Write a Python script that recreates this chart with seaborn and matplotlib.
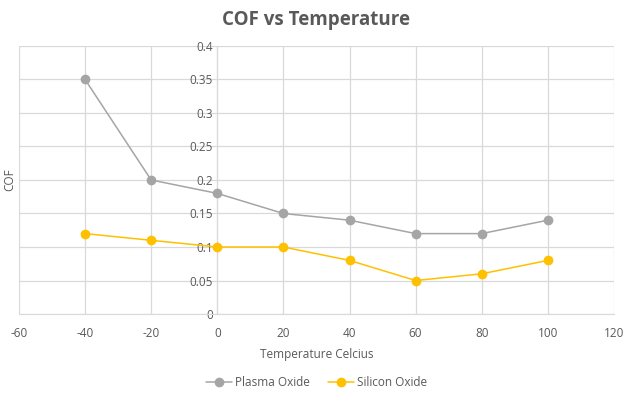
import seaborn as sns
import matplotlib.pyplot as plt
import pandas as pd

# data
temps = [-40, -20, 0, 20, 40, 60, 80, 100]
plasma_oxide = [0.35, 0.20, 0.18, 0.15, 0.14, 0.12, 0.12, 0.14]
silicon_oxide = [0.12, 0.11, 0.10, 0.10, 0.08, 0.05, 0.06, 0.08]
series_names = ['Plasma Oxide', 'Silicon Oxide']

df = pd.DataFrame({
    'Temperature': temps * 2,
    'COF': plasma_oxide + silicon_oxide,
    'Series': [series_names[0]] * len(temps) + [series_names[1]] * len(temps),
})

sns.set_style('white')
plt.rcParams['font.family'] = ['Open Sans', 'DejaVu Sans']
plt.rcParams['axes.unicode_minus'] = False

fig = plt.figure(figsize=(6.31, 3.96), dpi=100)
ax = fig.add_axes([0.030, 0.207, 0.943, 0.677])

palette = {'Plasma Oxide': '#A5A5A5', 'Silicon Oxide': '#FFC000'}
sns.lineplot(data=df, x='Temperature', y='COF', hue='Series', palette=palette,
             marker='o', markersize=7, markeredgewidth=0, linewidth=1.1,
             ax=ax, legend=True, zorder=3)

ax.set_xlim(-60, 120)
ax.set_ylim(0, 0.4)
ax.set_xticks(range(-60, 121, 20))
ax.set_yticks([0, 0.05, 0.1, 0.15, 0.2, 0.25, 0.3, 0.35, 0.4])
ax.set_yticklabels(['0', '0.05', '0.1', '0.15', '0.2', '0.25', '0.3', '0.35', '0.4'])
ax.grid(True, color='#D9D9D9', linewidth=0.9)
ax.set_axisbelow(True)

for s in ['top', 'right']:
    ax.spines[s].set_visible(False)
ax.spines['bottom'].set_color('#D9D9D9')
ax.spines['left'].set_position(('data', 0))
ax.spines['left'].set_color('#D9D9D9')
ax.tick_params(axis='both', length=0, labelsize=8.5, labelcolor='#595959')
ax.tick_params(axis='x', pad=9)
ax.tick_params(axis='y', pad=3)

ax.set_xlabel('Temperature Celcius', fontsize=8.5, color='#595959', labelpad=6)
ax.set_ylabel('')
fig.text(0.016, 0.545, 'COF', rotation=90, fontsize=8.5, color='#595959',
         ha='center', va='center')

fig.suptitle('COF vs Temperature', x=0.5, y=0.975, fontsize=13.5,
             fontweight='bold', color='#595959')

handles, labels = ax.get_legend_handles_labels()
ax.legend(handles, labels, loc='center', bbox_to_anchor=(0.5, -0.257),
          ncol=2, frameon=False, fontsize=8.5, labelcolor='#595959',
          handlelength=2.2, columnspacing=1.5, handletextpad=0.3)

fig.savefig('out.png', dpi=100)
